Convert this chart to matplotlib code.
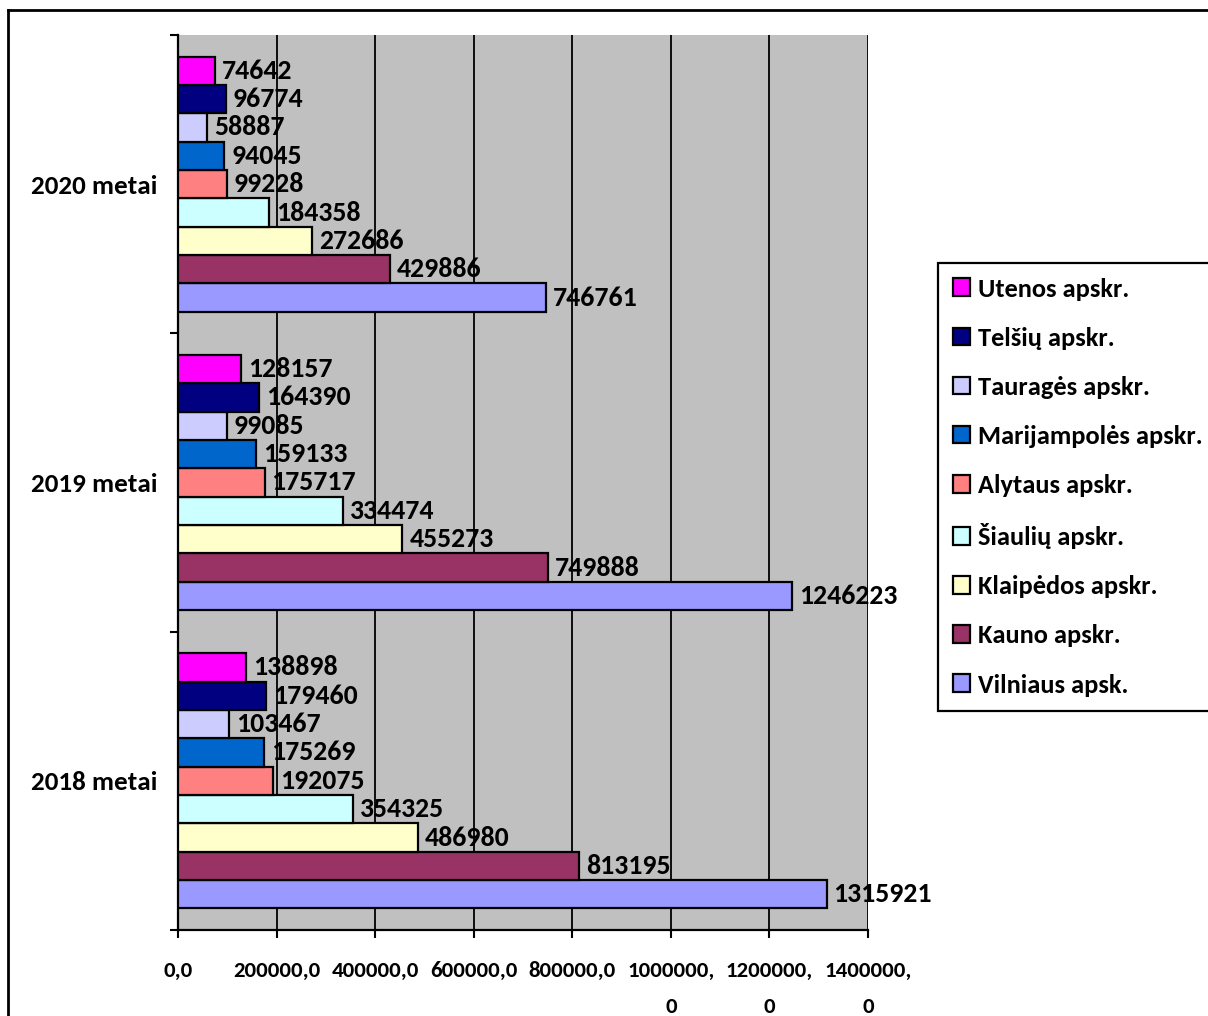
import matplotlib.pyplot as plt
import numpy as np
from matplotlib.lines import Line2D

plt.rcParams['font.family'] = ['Carlito', 'DejaVu Sans']
plt.rcParams['font.weight'] = 'bold'

years = ["2018 metai", "2019 metai", "2020 metai"]
regions = ["Vilniaus apsk.", "Kauno apskr.", "Klaipėdos apskr.", "Šiaulių apskr.",
           "Alytaus apskr.", "Marijampolės apskr.", "Tauragės apskr.",
           "Telšių apskr.", "Utenos apskr."]
colors = ["#9999FF", "#993366", "#FFFFCC", "#CCFFFF", "#FF8080",
          "#0066CC", "#CCCCFF", "#000080", "#FF00FF"]

# values per region for 2018, 2019, 2020
vilniaus = [1315921, 1246223, 746761]
kauno = [813195, 749888, 429886]
klaipedos = [486980, 455273, 272686]
siauliu = [354325, 334474, 184358]
alytaus = [192075, 175717, 99228]
marijampoles = [175269, 159133, 94045]
taurages = [103467, 99085, 58887]
telsiu = [179460, 164390, 96774]
utenos = [138898, 128157, 74642]
series = [vilniaus, kauno, klaipedos, siauliu, alytaus,
          marijampoles, taurages, telsiu, utenos]

xticks = [0, 200000, 400000, 600000, 800000, 1000000, 1200000, 1400000]
xticklabels = ["0,0", "200000,0", "400000,0", "600000,0", "800000,0",
               "1000000,\n0", "1200000,\n0", "1400000,\n0"]

fig = plt.figure(figsize=(12.08, 10.16), dpi=100)
ax = fig.add_axes([178 / 1208, 1 - 930 / 1016, 690 / 1208, 895 / 1016])
ax.set_facecolor("#C0C0C0")

h = 0.095
cats = np.arange(len(years))
handles = []
for i, (name, vals, col) in enumerate(zip(regions, series, colors)):
    bars = ax.barh(cats + (i - 4) * h, vals, height=h, color=col,
                   edgecolor="black", linewidth=1.6, zorder=3, label=name)
    ax.bar_label(bars, labels=[str(v) for v in vals], padding=5,
                 fontsize=20, fontweight="bold", zorder=4)
    handles.append(bars)

ax.set_xlim(0, 1400000)
ax.set_ylim(-0.5, 2.5)
ax.set_xticks(xticks)
ax.set_xticklabels(xticklabels, fontsize=16.5, fontweight="bold", linespacing=2.0)
ax.tick_params(axis="x", direction="out", length=6, width=1.5, pad=16)
ax.xaxis.grid(True, color="black", linewidth=1.3, zorder=0)
ax.set_axisbelow(True)

ax.set_yticks([-0.5, 0.5, 1.5, 2.5])
ax.set_yticklabels([])
ax.set_yticks(cats, minor=True)
ax.set_yticklabels(years, minor=True, fontsize=19.5, fontweight="bold")
ax.tick_params(axis="y", which="major", direction="out", length=6, width=1.5)
ax.tick_params(axis="y", which="minor", length=0, pad=15)

for side in ["top", "right"]:
    ax.spines[side].set_visible(False)
for side in ["left", "bottom"]:
    ax.spines[side].set_linewidth(1.6)

leg = ax.legend(handles[::-1], regions[::-1], loc="upper left",
                bbox_to_anchor=(938 / 1208, 1 - 263 / 1016),
                bbox_transform=fig.transFigure, fancybox=False,
                edgecolor="black", framealpha=1, prop={"size": 19, "weight": "bold"},
                handlelength=0.65, handleheight=0.65, handletextpad=0.3,
                labelspacing=0.99, borderpad=0.55, borderaxespad=0)
leg.get_frame().set_linewidth(1.6)

# outer chart border
fig.add_artist(Line2D([8 / 1208, 8 / 1208], [0, 1 - 10 / 1016], color="black",
                      linewidth=2, transform=fig.transFigure))
fig.add_artist(Line2D([8 / 1208, 1], [1 - 10 / 1016, 1 - 10 / 1016], color="black",
                      linewidth=2, transform=fig.transFigure))

fig.savefig("out.png", dpi=100)
